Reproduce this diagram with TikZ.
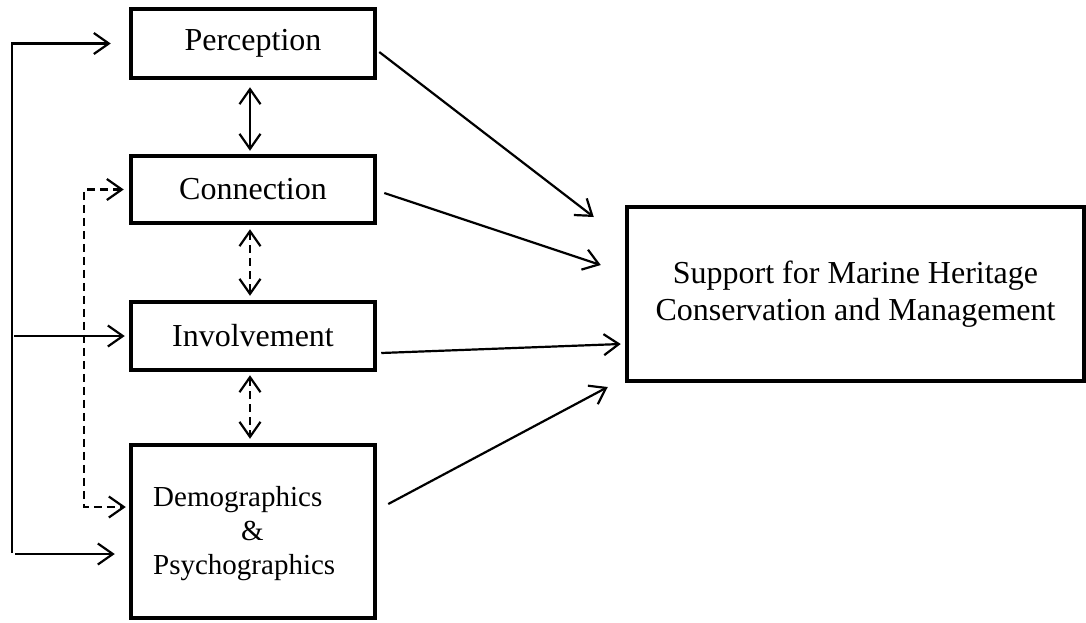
\documentclass[tikz,border=0pt]{standalone}
\usepackage{fontspec}
\setmainfont{Liberation Serif}
\usetikzlibrary{arrows.meta}
\tikzset{
  box/.style={draw, line width=4.5pt, inner sep=0pt, align=center,
              font=\fontsize{32}{37}\selectfont},
  barb/.tip={Straight Barb[length=15pt,width=21pt]},
  arr/.style={line width=2.2pt, -barb},
  twoway/.style={line width=2.2pt, barb-barb},
  dsh/.style={dash pattern=on 8pt off 5pt}
}
\begin{document}
\begin{tikzpicture}[x=1pt,y=-1pt]
\useasboundingbox (0,0) rectangle (1086,622);

% construct boxes
\node[box, minimum width=244pt, minimum height=69pt]  (perc) at (253,43.5)  {Perception};
\node[box, minimum width=244pt, minimum height=67pt]  (conn) at (253,189.5) {Connection};
\node[box, minimum width=244pt, minimum height=68pt]  (inv)  at (253,336)   {Involvement};
\node[box, minimum width=244pt, minimum height=173pt] (demo) at (253,531.5) {};
\node[anchor=west, align=left, inner sep=0pt, font=\fontsize{29}{34}\selectfont]
  (demotext) at (153,534) {Demographics\\\hspace*{88pt}\&\\Psychographics};

% outcome box
\node[box, minimum width=457pt, minimum height=174pt] (sup) at (855.5,294)
  {Support for Marine Heritage\\Conservation and Management};

% solid feedback trunk on the left
\coordinate (trunk) at (12,553);
\draw[arr] (trunk) |- ([xshift=-18pt]perc.west);
\draw[arr] (15,554) -- ([shift={(-14,22.5)}]demo.west);
\draw[arr] (14,336) -- ([xshift=-4pt]inv.west);

% dashed link between connection and demographics
\draw[line width=2.2pt, dsh, barb-barb] ([xshift=-5pt]conn.west) -| (84,507)
  -- ([shift={(-3,-24.5)}]demo.west);

% vertical two-way links
\draw[twoway] ([shift={(-3,7)}]perc.south) -- ([shift={(-3,-3)}]conn.north);
\draw[twoway, dsh] ([shift={(-3,4)}]conn.south) -- ([shift={(-3,-4)}]inv.north);
\draw[twoway, dsh] ([shift={(-3,3)}]inv.south) -- ([shift={(-3,-4)}]demo.north);

% paths to the outcome
\draw[arr] ([shift={(2,8.5)}]perc.east)    -- ([shift={(-31,-77)}]sup.west);
\draw[arr] ([shift={(7,3.5)}]conn.east)    -- ([shift={(-24,-29)}]sup.west);
\draw[arr] ([shift={(4,17)}]inv.east)      -- ([shift={(-4,50)}]sup.west);
\draw[arr] ([shift={(11,-27.5)}]demo.east) -- ([shift={(-17,93)}]sup.west);
\end{tikzpicture}
\end{document}
